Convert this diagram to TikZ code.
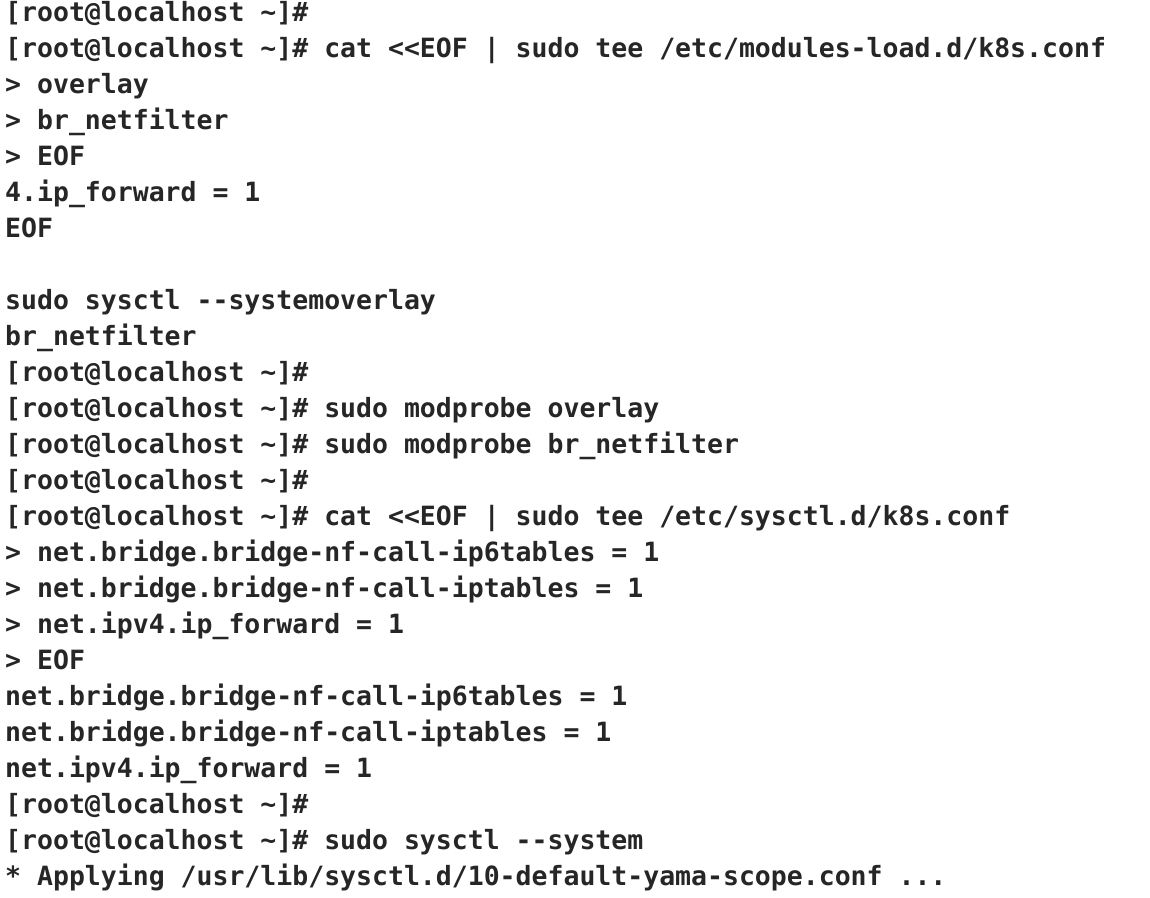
\documentclass[tikz,border=0pt]{standalone}
\usepackage{fontspec}
\setmonofont{DejaVu Sans Mono}
\definecolor{term}{HTML}{262626}
\begin{document}
\begin{tikzpicture}[x=1pt,y=1pt,
  ln/.style={anchor=base west,inner sep=0pt,text=term,
    font=\fontsize{26.5}{36}\selectfont\ttfamily\bfseries}]
\useasboundingbox[fill=white] (0,0) rectangle (1150,-897);
\def\P{[root@localhost \textasciitilde]\#}
\node[ln] (l1)  at (5,-21)  {\P};
\node[ln] (l2)  at (5,-57)  {\P{} cat <<EOF | sudo tee /etc/modules-load.d/k8s.conf};
\node[ln] (l3)  at (5,-93)  {> overlay};
\node[ln] (l4)  at (5,-129) {> br\_netfilter};
\node[ln] (l5)  at (5,-165) {> EOF};
\node[ln] (l6)  at (5,-201) {4.ip\_forward = 1};
\node[ln] (l7)  at (5,-237) {EOF};
\node[ln] (l9)  at (5,-309) {sudo sysctl --systemoverlay};
\node[ln] (l10) at (5,-345) {br\_netfilter};
\node[ln] (l11) at (5,-381) {\P};
\node[ln] (l12) at (5,-417) {\P{} sudo modprobe overlay};
\node[ln] (l13) at (5,-453) {\P{} sudo modprobe br\_netfilter};
\node[ln] (l14) at (5,-489) {\P};
\node[ln] (l15) at (5,-525) {\P{} cat <<EOF | sudo tee /etc/sysctl.d/k8s.conf};
\node[ln] (l16) at (5,-561) {> net.bridge.bridge-nf-call-ip6tables = 1};
\node[ln] (l17) at (5,-597) {> net.bridge.bridge-nf-call-iptables = 1};
\node[ln] (l18) at (5,-633) {> net.ipv4.ip\_forward = 1};
\node[ln] (l19) at (5,-669) {> EOF};
\node[ln] (l20) at (5,-705) {net.bridge.bridge-nf-call-ip6tables = 1};
\node[ln] (l21) at (5,-741) {net.bridge.bridge-nf-call-iptables = 1};
\node[ln] (l22) at (5,-777) {net.ipv4.ip\_forward = 1};
\node[ln] (l23) at (5,-813) {\P};
\node[ln] (l24) at (5,-849) {\P{} sudo sysctl --system};
\node[ln] (l25) at (5,-885) {* Applying /usr/lib/sysctl.d/10-default-yama-scope.conf ...};
\end{tikzpicture}
\end{document}
